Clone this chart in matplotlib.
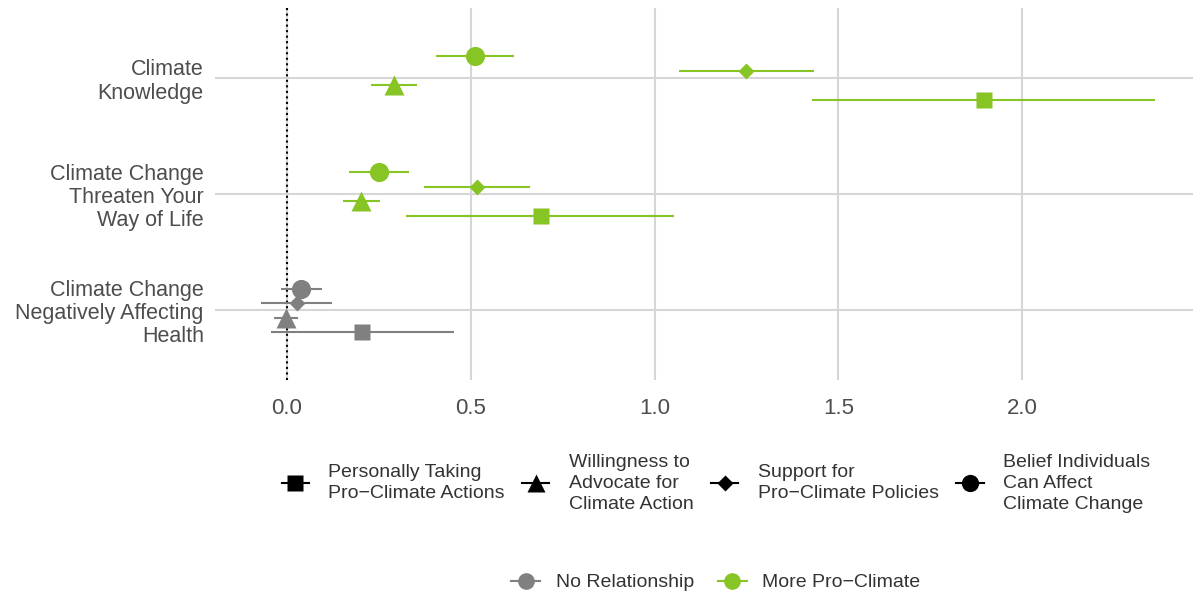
import numpy as np
import matplotlib.pyplot as plt
from matplotlib.lines import Line2D

plt.rcParams['font.family'] = ['Liberation Sans', 'DejaVu Sans']

# predictors, top to bottom
categories = ["Climate\nKnowledge",
              "Climate Change\nThreaten Your\nWay of Life",
              "Climate Change\nNegatively Affecting\nHealth"]
relationship = ["More Pro\u2212Climate", "More Pro\u2212Climate", "No Relationship"]

# outcomes (legend order)
outcomes = ["Personally Taking\nPro\u2212Climate Actions",
            "Willingness to\nAdvocate for\nClimate Action",
            "Support for\nPro\u2212Climate Policies",
            "Belief Individuals\nCan Affect\nClimate Change"]

# estimates per outcome, per predictor (Knowledge, Threaten, Health)
est_actions = [1.895, 0.690, 0.205]
lo_actions = [1.428, 0.325, -0.043]
hi_actions = [2.361, 1.053, 0.453]

est_advocate = [0.292, 0.201, -0.003]
lo_advocate = [0.229, 0.153, -0.035]
hi_advocate = [0.354, 0.253, 0.029]

est_policies = [1.250, 0.516, 0.027]
lo_policies = [1.067, 0.373, -0.072]
hi_policies = [1.434, 0.660, 0.123]

est_belief = [0.512, 0.250, 0.039]
lo_belief = [0.406, 0.168, -0.017]
hi_belief = [0.618, 0.332, 0.094]

estimates = [est_actions, est_advocate, est_policies, est_belief]
lows = [lo_actions, lo_advocate, lo_policies, lo_belief]
highs = [hi_actions, hi_advocate, hi_policies, hi_belief]

colors = {"No Relationship": "#808080", "More Pro\u2212Climate": "#86C523"}
markers = ['s', '^', 'D', 'o']
msizes = [12.2, 15, 8.6, 13.8]
offsets = [-0.1875, -0.0625, 0.0625, 0.1875]

fig = plt.figure(figsize=(11.93, 5.92), dpi=100)
ax = fig.add_axes([0.1802, 0.358, 0.8198, 0.628])

ypos = [3, 2, 1]  # Knowledge at top
for k in range(4):
    for i in range(3):
        y = ypos[i] + offsets[k]
        c = colors[relationship[i]]
        ax.plot([lows[k][i], highs[k][i]], [y, y], color=c, lw=1.5,
                solid_capstyle='butt', zorder=3)
        ax.plot(estimates[k][i], y, marker=markers[k], ms=msizes[k], color=c,
                mec='none', linestyle='none', zorder=4)

ax.axvline(0, color='black', ls=':', lw=1.5, zorder=2)

ax.set_xlim(-0.196, 2.465)
ax.set_ylim(0.4, 3.6)
ax.set_xticks([0.0, 0.5, 1.0, 1.5, 2.0])
ax.set_xticklabels(["0.0", "0.5", "1.0", "1.5", "2.0"], fontsize=16)
ax.set_yticks(ypos)
ax.set_yticklabels(categories, fontsize=15.5)
for t in ax.get_yticklabels():
    t.set_linespacing(1.13)
ax.tick_params(axis='both', length=0, colors='#4d4d4d')
ax.tick_params(axis='y', pad=8)
ax.tick_params(axis='x', pad=13)
ax.grid(True, color='#d6d6d6', lw=1.5, zorder=0)
ax.set_axisbelow(True)
for s in ax.spines.values():
    s.set_visible(False)

# shape legend
shape_handles = [Line2D([0], [0], color='black', lw=1.5, marker=markers[k],
                        ms=msizes[k] * 0.9, mec='none') for k in range(4)]
leg1 = fig.legend(shape_handles, outcomes, loc='center', ncol=4,
                  bbox_to_anchor=(0.600, 0.184), frameon=False, fontsize=14,
                  handlelength=1.4, handletextpad=1.0, columnspacing=0.9,
                  labelcolor='#333333')
for t in leg1.get_texts():
    t.set_linespacing(1.31)

# colour legend
col_names = ["No Relationship", "More Pro\u2212Climate"]
col_handles = [Line2D([0], [0], color=colors[n], lw=1.5, marker='o', ms=12,
                      mec='none') for n in col_names]
fig.legend(col_handles, col_names, loc='center', ncol=2,
           bbox_to_anchor=(0.600, 0.016), frameon=False, fontsize=14,
           handlelength=1.5, handletextpad=0.8, columnspacing=1.2,
           labelcolor='#333333')

fig.savefig("out.png", dpi=100)
